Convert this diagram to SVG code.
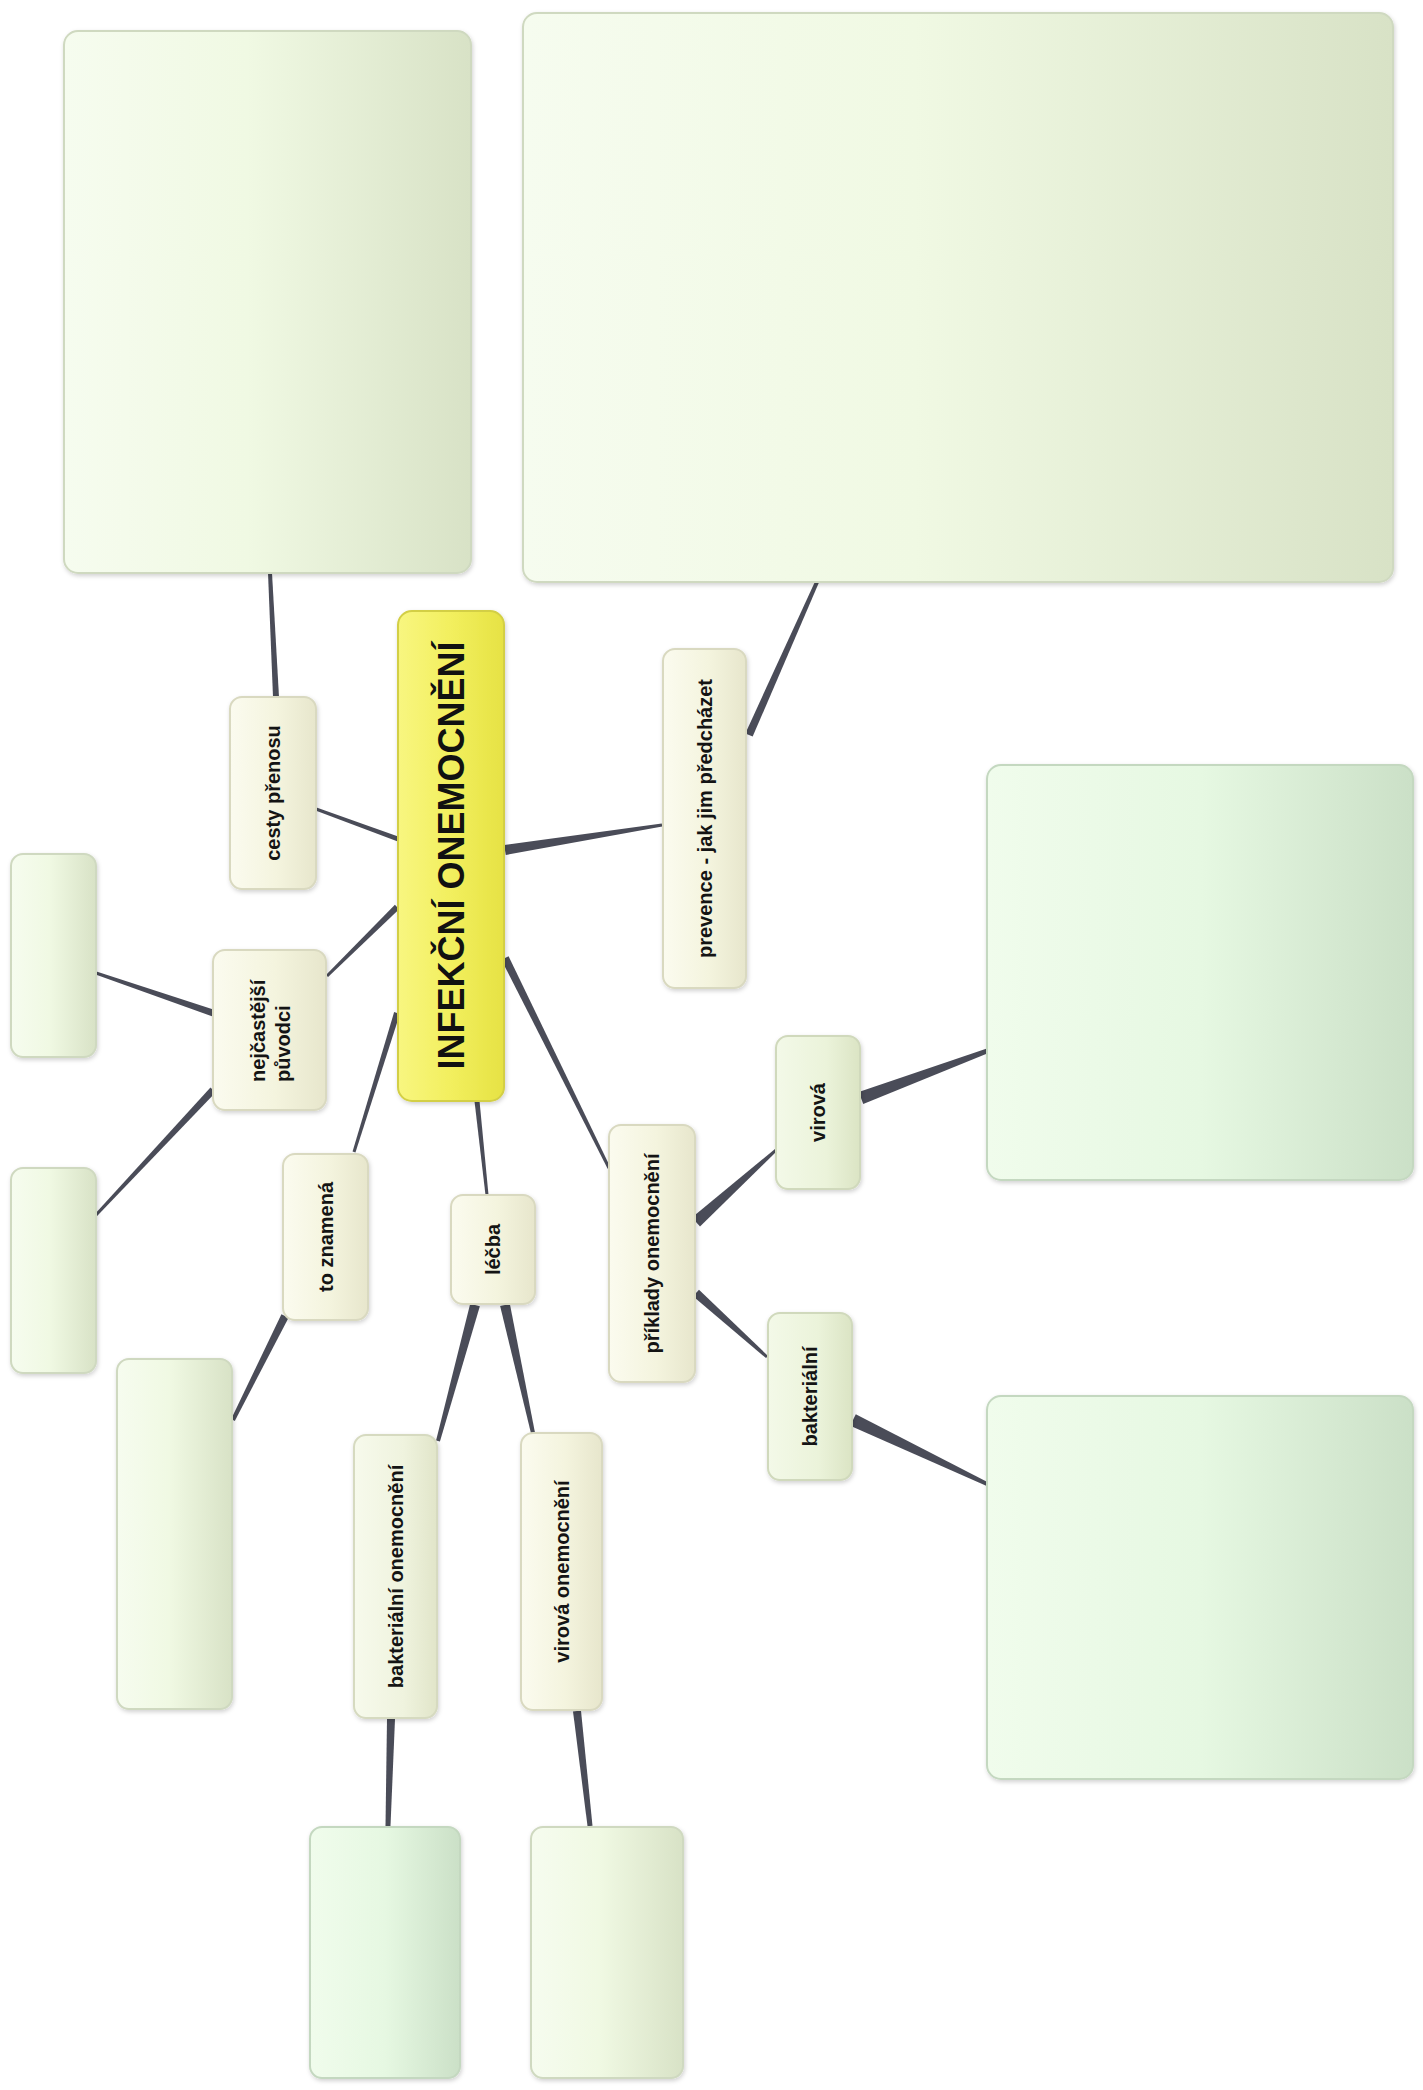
<svg xmlns="http://www.w3.org/2000/svg" width="1423" height="2090" viewBox="0 0 1423 2090">
<defs>
<linearGradient id="gCream" x1="0" y1="0" x2="1" y2="0">
<stop offset="0" stop-color="#fbfbef"/><stop offset="0.55" stop-color="#f4f4de"/><stop offset="1" stop-color="#e7e6cc"/>
</linearGradient>
<linearGradient id="gLabelGreen" x1="0" y1="0" x2="1" y2="0">
<stop offset="0" stop-color="#f3f9e8"/><stop offset="0.6" stop-color="#ebf3da"/><stop offset="1" stop-color="#dbe4c4"/>
</linearGradient>
<linearGradient id="gLabelMix" x1="0" y1="0" x2="1" y2="0">
<stop offset="0" stop-color="#f7faec"/><stop offset="0.6" stop-color="#eff3de"/><stop offset="1" stop-color="#e1e5c9"/>
</linearGradient>
<linearGradient id="gYellow" x1="0" y1="0" x2="1" y2="0">
<stop offset="0" stop-color="#f8f680"/><stop offset="0.5" stop-color="#f2ef5e"/><stop offset="1" stop-color="#e6e244"/>
</linearGradient>
<linearGradient id="gBoxA" x1="0" y1="0" x2="1" y2="0">
<stop offset="0" stop-color="#f6fcef"/><stop offset="0.45" stop-color="#f0f9e3"/><stop offset="1" stop-color="#d8e2c6"/>
</linearGradient>
<linearGradient id="gBoxB" x1="0" y1="0" x2="1" y2="0">
<stop offset="0" stop-color="#f0fcec"/><stop offset="0.5" stop-color="#e6f8e2"/><stop offset="1" stop-color="#cbe0c7"/>
</linearGradient>
<filter id="sh" x="-10%" y="-10%" width="120%" height="120%">
<feDropShadow dx="1" dy="2" stdDeviation="2" flood-color="#000" flood-opacity="0.18"/>
</filter>
<style>
.cream{fill:url(#gCream);stroke:#d9d9c0;stroke-width:2;filter:url(#sh)}
.lgreen{fill:url(#gLabelGreen);stroke:#d0d9bc;stroke-width:2;filter:url(#sh)}
.lmix{fill:url(#gLabelMix);stroke:#d6dac0;stroke-width:2;filter:url(#sh)}
.boxA{fill:url(#gBoxA);stroke:#cfd9c0;stroke-width:2;filter:url(#sh)}
.boxB{fill:url(#gBoxB);stroke:#c4d8c0;stroke-width:2;filter:url(#sh)}
.central{fill:url(#gYellow);stroke:#d3cf45;stroke-width:2;filter:url(#sh)}
.lbl{font-family:"Liberation Sans",Arial,sans-serif;font-weight:bold;font-size:20px;fill:#141414;text-anchor:middle;dominant-baseline:central}
.lblL{font-family:"Liberation Sans",Arial,sans-serif;font-weight:bold;font-size:20px;fill:#141414;text-anchor:start;dominant-baseline:central}
.big{font-family:"Liberation Sans",Arial,sans-serif;font-weight:bold;font-size:36px;fill:#111;text-anchor:middle;dominant-baseline:central}
.conn polygon{fill:#4a4c58}
</style>
</defs>
<rect width="1423" height="2090" fill="#ffffff"/>

<g id="connectors" class="conn">
<polygon points="279.0,696.9 272.0,572.9 268.0,573.1 273.0,697.1"/>
<polygon points="398.86,836.65 316.52,807.59 315.48,810.41 397.14,841.35"/>
<polygon points="505.79,854.94 662.24,826.48 661.76,823.52 504.21,845.06"/>
<polygon points="752.66,736.62 818.83,582.81 815.17,581.19 745.34,733.38"/>
<polygon points="394.89,904.86 325.95,974.93 328.05,977.07 399.11,909.14"/>
<polygon points="214.13,1009.69 96.49,971.58 95.51,974.42 211.87,1016.31"/>
<polygon points="210.45,1087.61 94.91,1213.98 97.10,1216.02 215.56,1092.39"/>
<polygon points="394.14,1012.11 352.57,1151.56 355.43,1152.44 399.87,1013.89"/>
<polygon points="281.42,1314.21 231.21,1419.11 234.79,1420.89 288.58,1317.79"/>
<polygon points="474.51,1101.27 485.51,1195.16 488.49,1194.84 479.49,1100.73"/>
<polygon points="501.42,959.78 607.66,1168.67 610.34,1167.33 508.58,956.22"/>
<polygon points="700.02,1226.46 777.00,1151.11 775.00,1148.89 691.98,1217.54"/>
<polygon points="692.99,1296.34 766.0,1358.11 768.0,1355.89 699.01,1289.66"/>
<polygon points="863.27,1104.09 987.87,1053.34 986.13,1048.66 858.73,1091.91"/>
<polygon points="850.20,1425.86 986.14,1485.80 987.86,1482.20 855.80,1414.14"/>
<polygon points="470.18,1303.69 436.07,1440.47 439.93,1441.53 479.83,1306.32"/>
<polygon points="500.12,1306.07 531.05,1433.43 534.95,1432.57 509.89,1303.93"/>
<polygon points="387.0,1718.89 385.5,1825.93 390.5,1826.07 395.0,1719.11"/>
<polygon points="573.02,1711.45 587.52,1826.28 592.49,1825.72 580.98,1710.55"/>
</g>

<g id="box-top-left"><rect class="boxA" x="64" y="31" width="407" height="542" rx="14"/></g>
<g id="box-top-right"><rect class="boxA" x="523" y="13" width="870" height="569" rx="14"/></g>
<g id="box-right-virova"><rect class="boxB" x="987" y="765" width="426" height="415" rx="14"/></g>
<g id="box-right-bakterialni"><rect class="boxB" x="987" y="1396" width="426" height="383" rx="14"/></g>
<g id="box-left-1"><rect class="boxA" x="11" y="854" width="85" height="203" rx="12"/></g>
<g id="box-left-2"><rect class="boxA" x="11" y="1168" width="85" height="205" rx="12"/></g>
<g id="box-to-znamena"><rect class="boxA" x="117" y="1359" width="115" height="350" rx="12"/></g>
<g id="box-bottom-left"><rect class="boxB" x="310" y="1827" width="150" height="251" rx="12"/></g>
<g id="box-bottom-right"><rect class="boxA" x="531" y="1827" width="152" height="251" rx="12"/></g>

<g id="node-central">
<rect class="central" x="398" y="611" width="106" height="490" rx="14"/>
<text class="big" transform="translate(451,855.5) rotate(-90)">INFEKČNÍ ONEMOCNĚNÍ</text>
</g>
<g id="node-cesty">
<rect class="cream" x="230" y="697" width="86" height="192" rx="12"/>
<text class="lbl" transform="translate(273,793) rotate(-90)">cesty přenosu</text>
</g>
<g id="node-prevence">
<rect class="cream" x="663" y="649" width="83" height="339" rx="12"/>
<text class="lbl" transform="translate(705,818.5) rotate(-90)">prevence - jak jim předcházet</text>
</g>
<g id="node-puvodci">
<rect class="cream" x="213" y="950" width="113" height="160" rx="12"/>
<g transform="translate(269.5,1030) rotate(-90)">
<text class="lblL" x="-52" y="-12">nejčastější</text>
<text class="lblL" x="-52" y="13">původci</text>
</g>
</g>
<g id="node-to-znamena">
<rect class="cream" x="283" y="1154" width="85" height="166" rx="12"/>
<text class="lbl" transform="translate(326,1237) rotate(-90)">to znamená</text>
</g>
<g id="node-lecba">
<rect class="cream" x="451" y="1195" width="84" height="109" rx="12"/>
<text class="lbl" transform="translate(493,1249.5) rotate(-90)">léčba</text>
</g>
<g id="node-priklady">
<rect class="cream" x="609" y="1125" width="86" height="257" rx="12"/>
<text class="lbl" transform="translate(652,1253.5) rotate(-90)">příklady onemocnění</text>
</g>
<g id="node-virova">
<rect class="lgreen" x="776" y="1036" width="84" height="153" rx="12"/>
<text class="lbl" transform="translate(818,1112.5) rotate(-90)">virová</text>
</g>
<g id="node-bakterialni">
<rect class="lgreen" x="768" y="1313" width="84" height="167" rx="12"/>
<text class="lbl" transform="translate(810,1396.5) rotate(-90)">bakteriální</text>
</g>
<g id="node-bakterialni-onemocneni">
<rect class="lmix" x="354" y="1435" width="83" height="283" rx="12"/>
<text class="lbl" transform="translate(395.5,1576.5) rotate(-90)">bakteriální onemocnění</text>
</g>
<g id="node-virova-onemocneni">
<rect class="cream" x="521" y="1433" width="81" height="277" rx="12"/>
<text class="lbl" transform="translate(561.5,1571.5) rotate(-90)">virová onemocnění</text>
</g>
</svg>
